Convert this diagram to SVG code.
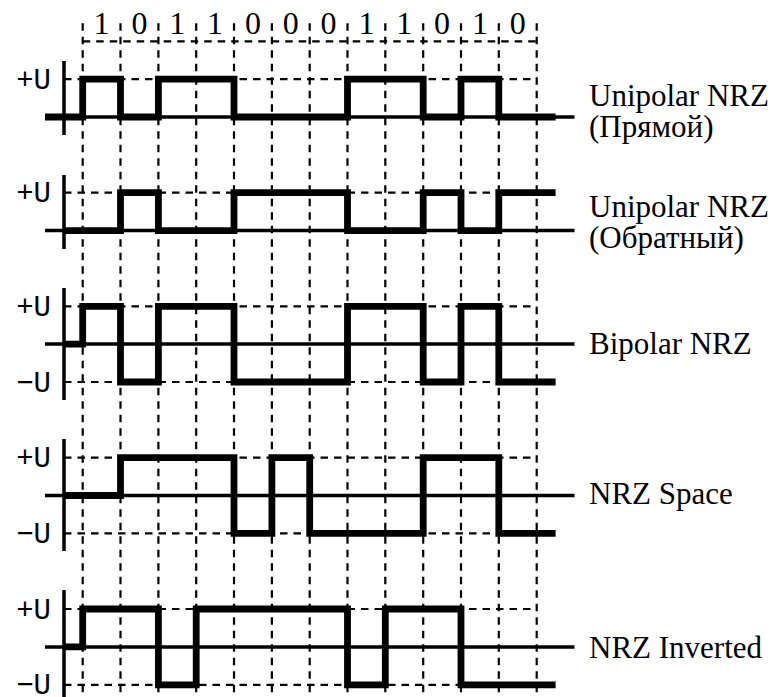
<svg xmlns="http://www.w3.org/2000/svg" width="774" height="697" viewBox="0 0 774 697">
  <style>
    .grid { fill: none; stroke: #000; stroke-width: 2.2; stroke-dasharray: 7.5 6; }
    .axis { fill: none; stroke: #000; stroke-width: 3.5; }
    .sig { fill: none; stroke: #000; stroke-width: 6.8; stroke-linejoin: miter; stroke-linecap: butt; }
    .mono { font-family: 'Liberation Mono', 'Courier New', monospace; font-size: 29px; fill: #000; }
    .bit { font-family: 'Liberation Serif', 'Times New Roman', serif; font-size: 32px; text-anchor: middle; fill: #000; }
    .lvl { text-anchor: end; }
    .name { font-family: 'Liberation Serif', 'Times New Roman', serif; font-size: 31px; fill: #000; }
  </style>

  <!-- bit-cell grid: vertical cell boundaries and top bracket line -->
  <g id="grid" class="grid">
    <path d="M82.7 23.3V697 M120.5 23.3V697 M158.4 23.3V697 M196.2 23.3V697 M234 23.3V697 M271.9 23.3V697 M309.7 23.3V697 M347.5 23.3V697 M385.3 23.3V697 M423.2 23.3V697 M461 23.3V697 M498.8 23.3V697 M536.7 23.3V697"/>
    <path d="M82.7 41.3H536.7"/>
    <!-- level reference lines -->
    <path d="M64 79.2H536.7 M64 192.7H536.7 M64 306.3H536.7 M64 382H536.7 M64 457.7H536.7 M64 533.4H536.7 M64 609H536.7 M64 684.8H536.7"/>
  </g>

  <!-- bit sequence -->
  <g id="bits" class="bit">
    <text x="101.6" y="33.5">1</text>
    <text x="139.5" y="33.5">0</text>
    <text x="177.3" y="33.5">1</text>
    <text x="215.1" y="33.5">1</text>
    <text x="253" y="33.5">0</text>
    <text x="290.8" y="33.5">0</text>
    <text x="328.6" y="33.5">0</text>
    <text x="366.4" y="33.5">1</text>
    <text x="404.3" y="33.5">1</text>
    <text x="442.1" y="33.5">0</text>
    <text x="479.9" y="33.5">1</text>
    <text x="517.7" y="33.5">0</text>
  </g>

  <!-- Unipolar NRZ, direct -->
  <g id="unipolar-direct">
    <path class="axis" d="M64 61V135 M45 117H574.5"/>
    <path class="sig" d="M45 117H82.7V79.2H120.5V117H158.4V79.2H234V117H347.5V79.2H423.2V117H461V79.2H498.8V117H555.6"/>
    <text class="mono lvl" x="51" y="88.5">+U</text>
    <text class="name" x="589" y="106">Unipolar NRZ</text>
    <text class="name" x="589" y="137">(Прямой)</text>
  </g>

  <!-- Unipolar NRZ, inverted -->
  <g id="unipolar-inverse">
    <path class="axis" d="M64 175V249 M45 230.6H574.5"/>
    <path class="sig" d="M64 230.6H120.5V192.7H158.4V230.6H234V192.7H347.5V230.6H423.2V192.7H461V230.6H498.8V192.7H555.6"/>
    <text class="mono lvl" x="51" y="202.2">+U</text>
    <text class="name" x="589" y="217">Unipolar NRZ</text>
    <text class="name" x="589" y="248">(Обратный)</text>
  </g>

  <!-- Bipolar NRZ -->
  <g id="bipolar">
    <path class="axis" d="M64 288V400 M45 344.1H574.5"/>
    <path class="sig" d="M64 344.1H82.7V306.3H120.5V382H158.4V306.3H234V382H347.5V306.3H423.2V382H461V306.3H498.8V382H555.6"/>
    <text class="mono lvl" x="51" y="315.8">+U</text>
    <text class="mono lvl" x="51" y="391.5">−U</text>
    <text class="name" x="589" y="354">Bipolar NRZ</text>
  </g>

  <!-- NRZ Space -->
  <g id="nrz-space">
    <path class="axis" d="M64 439V551 M45 495.5H574.5"/>
    <path class="sig" d="M64 495.5H120.5V457.7H234V533.4H271.9V457.7H309.7V533.4H423.2V457.7H498.8V533.4H555.6"/>
    <text class="mono lvl" x="51" y="467.2">+U</text>
    <text class="mono lvl" x="51" y="542.9">−U</text>
    <text class="name" x="589" y="503.5">NRZ Space</text>
  </g>

  <!-- NRZ Inverted -->
  <g id="nrz-inverted">
    <path class="axis" d="M64 590V703 M45 646.9H574.5"/>
    <path class="sig" d="M64 646.9H82.7V609H158.4V684.8H196.2V609H347.5V684.8H385.3V609H461V684.8H555.6"/>
    <text class="mono lvl" x="51" y="618.5">+U</text>
    <text class="mono lvl" x="51" y="694.3">−U</text>
    <text class="name" x="589" y="657.5">NRZ Inverted</text>
  </g>
</svg>
